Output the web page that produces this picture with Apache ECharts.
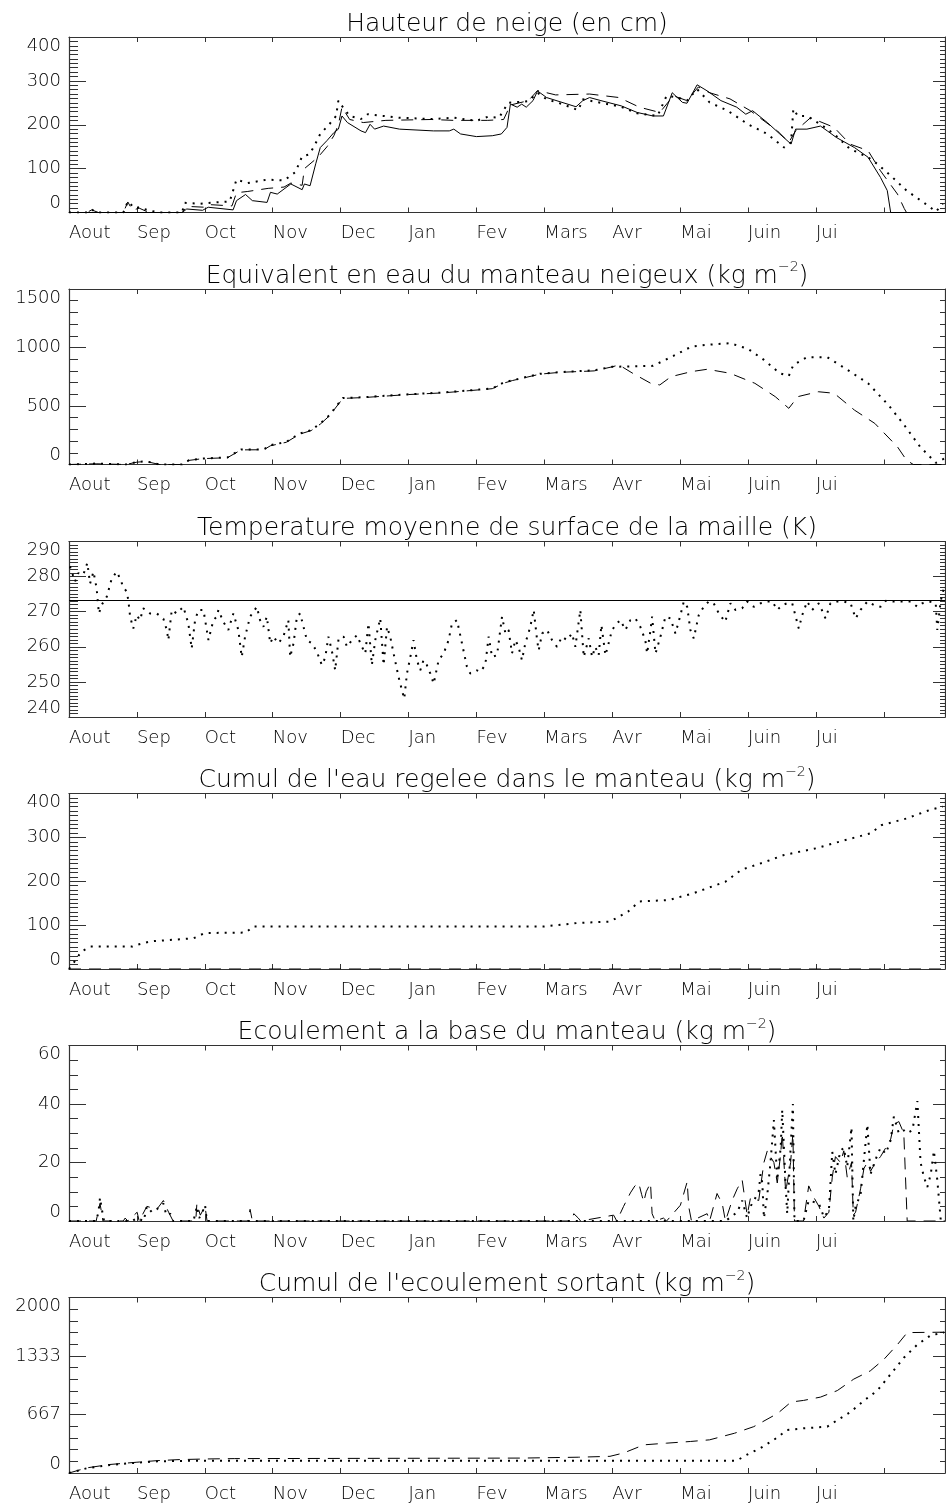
<!DOCTYPE html>
<html><head><meta charset="utf-8">
<script src="https://cdn.jsdelivr.net/npm/echarts@6.0.0/dist/echarts.min.js"></script>
<style>html,body{margin:0;padding:0;background:#fff}#c{width:946px;height:1508px}</style>
</head><body><div id="c"></div>
<script>
const monthLabels = ['Aout','Sep','Oct','Nov','Dec','Jan','Fev','Mars','Avr','Mai','Juin','Jui'];
const titles = [
  ['Hauteur de neige (en cm)', ''],
  ['Equivalent en eau du manteau neigeux (kg m', '\u22122'],
  ['Temperature moyenne de surface de la maille (K)', ''],
  ['Cumul de l\'eau regelee dans le manteau (kg m', '\u22122'],
  ['Ecoulement a la base du manteau (kg m', '\u22122'],
  ['Cumul de l\'ecoulement sortant (kg m', '\u22122']
];
// [day since 1 Aug, value]
const snowSolid = [[0,0],[50,0],[52,8],[59,5],[61.5,12],[72.5,6],[74,27],[78,41],[81,27],[87.5,23],[89,46],[92,42],[98,65],[103,52],[104,65],[106.5,61],[109,111],[111,148],[114,164],[117,182],[119,190],[120.6,220],[123,205],[129,186],[131,182],[133,201],[135,190],[139,197],[146,190],[161,186],[168,186],[170,190],[173,179],[180,173],[187,175],[191,179],[193.5,194],[195,247],[198,240],[200,247],[202,240],[205,255],[207,277],[211,262],[224,241],[227,255],[230,262],[235,255],[244,243],[251,228],[258,220],[262.6,220],[266.5,273],[271,251],[273,249],[277.5,291],[282,277],[288,255],[295,240],[299,224],[302,232],[308.5,205],[314,179],[319,156],[321,190],[326,190],[332,197],[335,186],[339,171],[347,148],[353,126],[358.5,80],[361.5,50],[363,0],[387,0]];
const snowDashed = [[0,0],[8,0],[10,6],[13,0],[24,0],[26,24],[28,5],[31,10],[34,3],[36,0],[50,0],[52,14],[60,12],[62,18],[72,15],[74,45],[79,48],[88,55],[95,58],[98,67],[103,62],[104,100],[110,126],[114,150],[117,175],[119,200],[120.6,240],[124,212],[130,205],[140,210],[160,212],[170,210],[185,210],[192,212],[195,245],[203,255],[207,278],[215,268],[230,270],[243,262],[252,240],[261,228],[267,266],[273,255],[278,286],[283,273],[292,259],[301,232],[313,186],[318,160],[321,186],[327.6,216],[338,194],[345,156],[353,141],[358.5,95],[366,42],[369,9],[370,0],[387,0]];
const snowDotted = [[0,0],[8,0],[10,7],[12,0],[24,0],[26,25],[29,10],[31,12],[35,5],[40,0],[50,0],[51,22],[58,20],[64,23],[71,25],[74,75],[79,67],[87.5,75],[95,73],[100,92],[103,128],[106,132],[108,148],[111,179],[115,201],[118,220],[119,255],[121,240],[124,220],[129,213],[132,224],[139,220],[146,216],[161,213],[170,216],[180,209],[185,218],[190,216],[194,250],[199,252],[203,254],[207,273],[211,258],[218,247],[225,233],[227,258],[235,250],[244,241],[251,226],[260,220],[264,266],[269,262],[273,255],[277.5,281],[283,251],[291,232],[300,201],[308.5,179],[316,148],[319,160],[320,236],[322,220],[326,220],[332,201],[338,179],[345,145],[353,126],[357,111],[363,84],[370,50],[377.5,23],[383,2],[386,20]];

const sweDotted = [[0,0],[12,8],[25,0],[30,22],[34,28],[40,0],[50,0],[53,37],[59,51],[70,60],[76,128],[86,128],[89,165],[96,193],[102,265],[107,294],[111,351],[115,420],[119,520],[121,568],[130,575],[150,600],[165,615],[181,640],[187,650],[192,700],[196,720],[208,775],[217,790],[232,805],[240,835],[258,843],[267,928],[275,1008],[282,1023],[292,1037],[300,988],[307,894],[314,780],[318,757],[320,851],[326,917],[335,917],[344,808],[353,694],[362,508],[369,337],[376,151],[383,14],[387,54]];
const sweDashed = [[0,0],[12,6],[25,0],[30,20],[34,26],[40,0],[50,0],[53,35],[59,50],[70,58],[76,125],[86,126],[89,160],[96,190],[102,260],[107,290],[111,345],[115,415],[119,515],[121,565],[130,572],[150,598],[165,612],[181,638],[187,648],[192,695],[196,718],[208,772],[217,788],[232,800],[240,835],[243,851],[249,780],[257,694],[261,680],[266,751],[275,794],[282,814],[292,780],[303,694],[312,580],[318,480],[322,580],[331,622],[338,609],[347,465],[356,351],[366,151],[370,37],[373,0],[387,0]];

const freezingK = 273.15;
const tempDotted = [[0.4,282.9],[2.7,278.6],[4.1,281],[6.3,280.5],[8.1,283.9],[9.3,278],[10.8,281.4],[12.2,276.7],[13.2,269.5],[14.5,272],[16.7,274.3],[18.9,279.5],[21.1,281.4],[22.5,279.5],[24,277],[25.5,275.7],[26.2,273.3],[27,268.6],[28.4,265.2],[29.9,269],[31.4,267.6],[32.8,271],[35.8,269.5],[38.8,269.5],[41.7,268],[43.2,264.8],[43.9,261.9],[45.4,270.5],[47.6,269.5],[50.5,271.4],[52.7,266.7],[54.2,259.5],[55.7,267.6],[57.2,270.5],[59.4,270.5],[61.6,261.9],[63.8,267.6],[65.3,268.6],[66,270.5],[68.2,267.1],[70.4,264.8],[72.6,269.5],[74.8,264.8],[76.3,257.1],[77.8,262.9],[80,268.6],[83,271.4],[84.4,267.6],[85.9,265.7],[87.4,268.6],[88.9,261],[90.3,262.9],[92.5,261],[94.7,262.9],[96.9,267.6],[97.7,257.1],[99.2,261],[100.7,268.6],[102.1,269.5],[103.6,265.7],[105.1,261.9],[107.3,261],[109.5,258.6],[111.7,254.8],[113.2,256.9],[114.6,262.9],[116.1,259],[117.6,253.3],[119.1,262.4],[121.3,262.9],[122.8,260],[125,261.9],[127.2,263.3],[129.4,260],[130.9,258.1],[132.3,266.7],[133.8,254.8],[135.3,261.9],[137.5,268.1],[139,254.8],[140.5,265.7],[141.9,262.9],[143.4,258.1],[145.6,251.4],[147.1,247.6],[148.1,245.2],[149.3,252.4],[150.8,257.1],[152.2,261.9],[153.7,256.2],[155.2,253.3],[156.6,256.2],[158.1,254.8],[159.6,252.4],[161.1,249.5],[163.3,256.2],[165.5,258.1],[167.7,261.9],[169.2,266.7],[171.4,267.6],[173.6,261],[175.8,254.3],[177.3,252.4],[180.2,253.3],[181.7,252.9],[183.9,254.8],[185.4,262.9],[186.9,257.1],[189.1,257.6],[191.3,268.6],[192.8,263.8],[194.2,264.8],[195.7,258.1],[197.2,261.9],[198.6,260],[200.1,256.2],[201.6,261],[203.8,265.7],[205.3,270.5],[206.8,261.9],[207.5,259],[209,263.8],[211.2,264.8],[213.4,261.9],[215.6,260],[217.8,262.9],[220,261.9],[222.2,263.8],[223.7,260],[225.9,270.5],[227.4,257.1],[229.6,262.4],[231.1,257.1],[232.5,260],[234,257.6],[235.2,266.2],[237,257.6],[238.4,261],[239.9,264.8],[242.1,266.7],[243.6,267.6],[245.8,264.8],[248,267.6],[250.2,268.1],[252.4,265.7],[254.6,261.9],[255.4,258.1],[256.9,264.8],[257.6,268.6],[259.1,258.1],[261.3,262.9],[263.5,268.6],[265.7,268.1],[267.9,263.8],[270.1,269],[271.6,272.9],[273.1,271.4],[274.5,264.8],[276,262.4],[278.2,269],[280.4,271.4],[282.6,272.9],[284.8,272.4],[287.1,269.5],[289.9,267.1],[292.2,272.4],[294.4,270.5],[297.4,271],[299.6,272.9],[302.5,271.4],[305.5,272.4],[308.5,272.9],[310.7,272.9],[312.9,270.5],[315.1,271.9],[317.3,272.4],[319.5,272.4],[322.4,265.2],[323.9,269],[326.1,272.9],[328.3,270.5],[331.3,272.4],[334.2,268.1],[336.4,272.4],[339.4,272.9],[342.3,272.9],[345.3,272.4],[347.5,268.1],[349.7,270.5],[352.7,272.9],[355.6,271.9],[358.5,271.4],[360.8,273.1],[364.4,272.9],[368.8,272.9],[371.8,272.9],[374.8,271.4],[377,272.4],[379.9,272.9],[382.9,272.4],[383.6,264.8],[385.1,273.1],[386.5,276.7]];

const regelDotted = [[0,0],[1.5,10],[5.5,40],[9.5,51],[28,51],[30,55],[36,63],[55,70],[60,82],[78,83],[81.5,97],[210,97],[225,105],[239,108],[247,131],[252,154],[265,157],[276,173],[290,199],[297,226],[308,245],[316,260],[330,275],[343,294],[354,309],[359,328],[370,343],[380,362],[386,370]];
const regelDashed = [[0,0],[387,0]];

const runoffDotted = [[0,0],[12,0],[13,3],[13.7,8],[14.5,4],[15.5,0],[28,0],[30,1],[33,0],[34.4,5],[36.6,3],[38.8,4],[41.7,6],[43,2],[44.7,2.5],[46,0],[55,0],[56.5,5],[57.5,1],[58.7,2.5],[60.1,5.5],[60.9,0],[290,0],[295.2,3],[297.4,7],[299.6,1],[301.1,5],[304.7,10],[305.5,16],[306.3,13],[307,1],[308.5,9],[309.9,20],[311.4,34.5],[312.9,14],[314.4,25],[315.1,38],[316.6,12],[317.3,2.5],[318.8,25],[319.8,40],[320.5,0],[324.5,0],[326.8,7],[329.1,6.5],[331.3,6],[333.5,1.3],[335.7,3.6],[337.2,23.6],[338.6,16],[340.8,24],[342.3,25],[343.8,18.5],[345.7,32],[346.5,0],[347.5,5],[349.7,9],[351.2,21],[352.7,33],[354.1,16],[356.3,21],[358.5,25],[360.8,23],[363,27.6],[364.4,35.7],[366.6,30],[368.8,31],[370.3,30],[372.6,31],[374.8,41],[376.2,20],[377.7,15],[379.2,11.6],[380.7,16],[382.1,24],[383.6,14],[385.1,0.5],[387,0]];
const runoffDashed = [[0,0],[12,0],[13.7,6],[15,0],[24,0],[24.8,1],[26,0],[30.1,3],[31,0],[34.4,5],[38.8,4],[41.7,7],[44,3],[46,0],[56,0],[56.5,6],[58,2],[60.1,5],[61,0],[79,0],[80,4],[81,0],[222,0],[223,2.5],[225,1],[226,0],[240.6,2],[242,0],[245,5],[248,9.6],[250,12],[251.7,13],[253,9],[253.9,6.5],[255,10],[256.9,13],[257.6,2.5],[259,0],[262.6,1],[264,0],[270.1,5.4],[273.1,13.4],[273.8,4.8],[275,0],[281.9,2.5],[283,0],[286.3,9.4],[288.6,5.9],[290,0],[293,7.1],[295.2,11],[297.4,14],[299.6,2],[301.1,8],[304.7,7],[307,20],[308.5,24],[309.9,22],[311.4,20],[312.9,13],[314.4,23],[315.1,30],[316.6,10],[318.8,20],[319.8,30],[320.5,0],[324.5,0],[326.8,12],[329.1,8],[331.3,5],[333.5,1],[335.7,3],[337.2,15],[338.6,22],[340.8,20],[342.3,24],[343.8,15],[345.7,20],[346.5,2],[347.5,3],[349.7,11],[351.2,18],[352.7,20],[354.1,17],[356.3,20],[358.5,22],[360.8,25],[363,28],[364.4,33],[366.6,34],[368.8,30],[370.3,0],[387,0]];

const outflowDotted = [[0,0],[8,55],[18,92],[30,118],[39,133],[49,138],[61,140],[80,140],[295,141],[299.6,210],[305.5,284],[311.4,378],[317.3,490],[324.5,509],[335,528],[339.4,602],[345.3,696],[351.2,826],[357.1,939],[363,1127],[368.8,1314],[374.8,1464],[380.7,1569],[386.5,1600]];
const outflowDashed = [[0,0],[8,59],[18,97],[30,123],[39,141],[49,153],[61,160],[73,164],[200,170],[225,180],[239,190],[245,228],[254,321],[264,340],[274.5,359],[283,378],[294,453],[302.5,528],[313,678],[319,809],[324.5,827],[332,865],[339.4,939],[346.7,1070],[354,1164],[360,1295],[366,1464],[370.3,1600],[387,1605]];

const yRanges = [
  {min:0, max:400, interval:100, minor:10, round:false},
  {min:0, max:1500, interval:500, minor:5, round:false},
  {min:240, max:290, interval:10, minor:10, round:false},
  {min:0, max:400, interval:100, minor:10, round:false},
  {min:0, max:60, interval:20, minor:4, round:false},
  {min:0, max:2000, interval:2000/3, minor:5, round:true}
];

const FONT = '"DejaVu Sans", sans-serif';
const FW = 200;
const AX = '#333';
const tops = [37, 289, 541.5, 793.5, 1045.5, 1297.5];
const H = 175.5;
const X_MAX = 387;

const grids = [], xAxes = [], yAxes = [], series = [], graphics = [];

const styleSolid = {color:'#000', width:1, type:'solid'};
const styleDashed = {color:'#000', width:1, type:[12,8]};
const styleDotted = {color:'#000', width:2, type:[2,6]};

function lineSeries(k, data, ls, extra) {
  return Object.assign({
    type:'line', xAxisIndex:2*k, yAxisIndex:2*k, data:data, showSymbol:false, symbol:'none',
    lineStyle:ls, silent:true, animation:false
  }, extra || {});
}

tops.forEach(function(top, k){
  grids.push({left:69, width:876, top:top, height:H, outerBoundsMode:'none', containLabel:false});
  const r = yRanges[k];
  xAxes.push({
    type:'value', gridIndex:k, min:0, max:X_MAX, interval:30, position:'bottom',
    axisLine:{show:true, onZero:false, lineStyle:{color:AX, width:1.2}},
    axisTick:{show:true, inside:true, length:5, lineStyle:{color:AX, width:1}},
    splitLine:{show:false},
    axisLabel:{show:true, align:'left', margin:12, color:'#000', fontSize:18, fontFamily:FONT, fontWeight:FW,
      showMaxLabel:false,
      formatter:function(v){ const i = Math.round(v/30); return (Math.abs(v-i*30)<1e-6 && i<monthLabels.length) ? monthLabels[i] : ''; }}
  });
  xAxes.push({
    type:'value', gridIndex:k, min:0, max:X_MAX, interval:30, position:'top',
    axisLine:{show:true, onZero:false, lineStyle:{color:AX, width:1.2}},
    axisTick:{show:true, inside:true, length:5, lineStyle:{color:AX, width:1}},
    splitLine:{show:false}, axisLabel:{show:false}
  });
  yAxes.push({
    type:'value', gridIndex:k, min:r.min, max:r.max, interval:r.interval, position:'left',
    axisLine:{show:true, onZero:false, lineStyle:{color:AX, width:1.2}},
    axisTick:{show:true, inside:true, length:17, lineStyle:{color:AX, width:1}},
    minorTick:{show:true, splitNumber:r.minor, length:9, lineStyle:{color:AX, width:1}},
    splitLine:{show:false}, minorSplitLine:{show:false},
    axisLabel:{show:true, margin:8, color:'#000', fontSize:18, fontFamily:FONT, fontWeight:FW,
      verticalAlignMaxLabel:'top', verticalAlignMinLabel:'bottom',
      formatter:function(v){ return r.round ? String(Math.round(v)) : String(Math.round(v*100)/100); }}
  });
  yAxes.push({
    type:'value', gridIndex:k, min:r.min, max:r.max, interval:r.interval, position:'right',
    axisLine:{show:true, onZero:false, lineStyle:{color:AX, width:1.2}},
    axisTick:{show:true, inside:true, length:12, lineStyle:{color:AX, width:1}},
    minorTick:{show:true, splitNumber:r.minor, length:5, lineStyle:{color:AX, width:1}},
    splitLine:{show:false}, axisLabel:{show:false}
  });
  const t = titles[k];
  graphics.push({
    type:'text', x:507, y:top-13, silent:true,
    style:{
      text: t[1] ? t[0] + '{s|' + t[1] + '}' + ')' : t[0],
      fontSize:25, fontFamily:FONT, fontWeight:FW, fill:'#000',
      align:'center', verticalAlign:'middle', textAlign:'center', textVerticalAlign:'middle',
      rich:{s:{fontSize:14, fontFamily:FONT, fontWeight:FW, fill:'#000', color:'#000', padding:[0,0,17,0]}}
    }
  });
});

series.push(lineSeries(0, snowSolid, styleSolid));
series.push(lineSeries(0, snowDashed, styleDashed));
series.push(lineSeries(0, snowDotted, styleDotted));
series.push(lineSeries(1, sweDashed, styleDashed));
series.push(lineSeries(1, sweDotted, styleDotted));
series.push(lineSeries(2, tempDotted, styleDotted, {
  markLine:{silent:true, symbol:'none', animation:false, label:{show:false},
    lineStyle:{color:'#000', width:1, type:'solid'}, data:[{yAxis:freezingK}]}
}));
series.push(lineSeries(3, regelDashed, styleDashed));
series.push(lineSeries(3, regelDotted, styleDotted));
series.push(lineSeries(4, runoffDashed, styleDashed));
series.push(lineSeries(4, runoffDotted, styleDotted));
series.push(lineSeries(5, outflowDashed, styleDashed));
series.push(lineSeries(5, outflowDotted, styleDotted));

const chart = echarts.init(document.getElementById('c'), null, {renderer:'canvas'});
chart.setOption({
  animation:false, backgroundColor:'#fff',
  grid:grids, xAxis:xAxes, yAxis:yAxes, series:series, graphic:{elements:graphics}
});
</script></body></html>
